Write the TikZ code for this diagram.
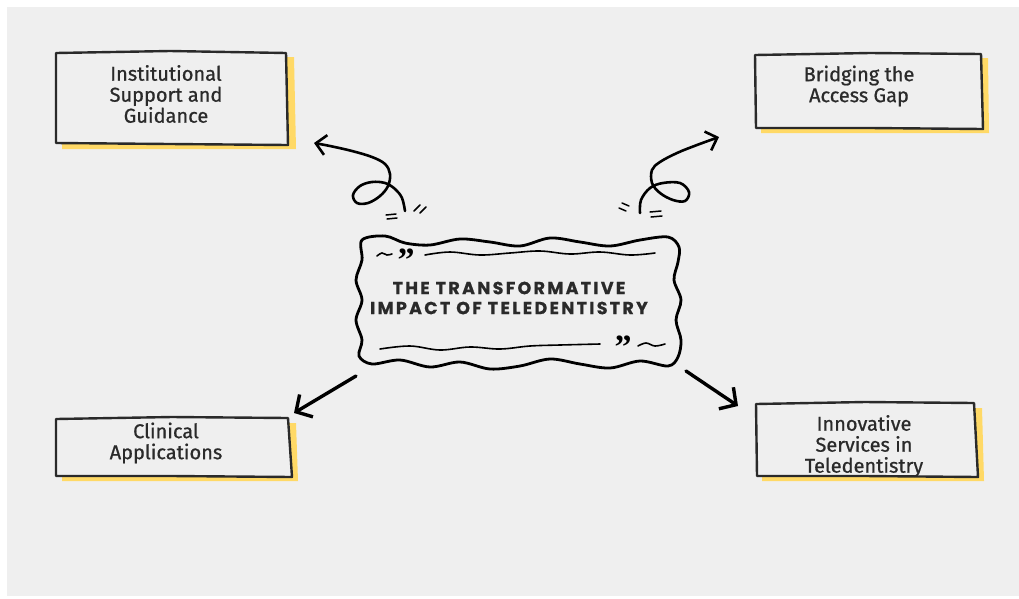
\documentclass[tikz,border=0pt]{standalone}
\usepackage{fontspec}
\setmainfont{Fira Sans}
\newfontfamily\lblfont{Fira Sans}[FakeBold=0.8]
\newfontfamily\titlefont{Poppins}[LetterSpace=13,FakeBold=0.6]
\newfontfamily\quotefont{Liberation Serif}
\usetikzlibrary{arrows.meta}
\definecolor{bg}{HTML}{EFEFEF}
\definecolor{ink}{HTML}{2A2A2A}
\definecolor{ylw}{HTML}{FFD966}
\tikzset{
 x=1pt,y=-1pt,
 sketchbox/.style={draw=ink, fill=bg, line width=2.4pt, line join=round},
 shadowbox/.style={fill=ylw},
 lbl/.style={align=center, font=\lblfont\fontsize{20}{21}\selectfont, text=ink},
 ttl/.style={align=center, font=\titlefont\bfseries\fontsize{17.5}{20}\selectfont, text=ink},
 curly/.style={line width=2.6pt, line cap=round, line join=round, -{Straight Barb[length=10pt,width=20pt]}},
 straightarr/.style={line width=3.4pt, line cap=round, -{Straight Barb[length=12pt,width=26pt]}},
 tick/.style={line width=1.5pt, line cap=round},
 wave/.style={line width=1.6pt, line cap=round},
 quotemark/.style={font=\quotefont\bfseries\fontsize{34}{34}\selectfont, text=black, inner sep=0pt, anchor=north},
}
\begin{document}
\begin{tikzpicture}
\useasboundingbox (0,0) rectangle (1019,598);
\fill[white] (0,0) rectangle (1019,598);
\fill[bg] (7,7) rectangle (1019,596);

% box 1
\fill[shadowbox] (62,57) -- (294,57) -- (296,149) -- (62,149) -- cycle;
\filldraw[sketchbox] (56,53) -- (170,51) -- (286,53) -- (288,145) -- (170,144) -- (56,143) -- cycle;
\node[lbl] (inst) at (166,94) {Institutional\\Support and\\Guidance};

% box 2
\fill[shadowbox] (761,58) -- (988,58) -- (989,133) -- (761,133) -- cycle;
\filldraw[sketchbox] (755,55) -- (870,53) -- (981,54) -- (983,129) -- (870,128) -- (756,128) -- cycle;
\node[lbl] (bridge) at (859,86) {Bridging the\\Access Gap};

% box 3
\fill[shadowbox] (62,423) -- (296,423) -- (298,481) -- (62,481) -- cycle;
\filldraw[sketchbox] (56,419) -- (172,417) -- (288,418) -- (292,477) -- (172,476) -- (56,476) -- cycle;
\node[lbl] (clin) at (166,443) {Clinical\\Applications};

% box 4
\fill[shadowbox] (762,408) -- (982,408) -- (984,481) -- (762,481) -- cycle;
\filldraw[sketchbox] (756,404) -- (865,402) -- (974,403) -- (978,477) -- (865,476) -- (757,476) -- cycle;
\node[lbl] (innov) at (864,446) {Innovative\\Services in\\Teledentistry};

% centre wavy frame
\draw[line width=2.8pt, line join=round, draw=black] plot[smooth cycle, tension=0.55] coordinates {
 (362,240) (385,236) (405,243) (430,245) (460,239) (490,242) (520,246) (550,238) (580,242) (610,246) (640,240) (668,237)
 (679,247) (678,262) (674,280) (681,300) (676,320) (681,340) (678,357)
 (668,366) (640,361) (610,368) (580,364) (550,359) (520,366) (490,369) (460,362) (430,367) (400,360) (372,364)
 (359,356) (362,340) (356,320) (362,300) (356,280) (362,260) };
\node[ttl] (title) at (509,298) {THE TRANSFORMATIVE\\IMPACT OF TELEDENTISTRY};
% decorative lines
\draw[wave] plot[smooth, tension=0.6] coordinates {(377,256) (382,253) (387,255) (392,254)};
\node[quotemark] (q1) at (406,249) {”};
\draw[wave] plot[smooth, tension=0.6] coordinates {(425,255) (450,252) (480,255) (510,253) (540,251) (570,254) (600,252) (630,255) (655,253)};
\draw[wave] plot[smooth, tension=0.6] coordinates {(380,349) (410,346) (440,350) (470,347) (500,349) (530,346) (560,345) (600,344)};
\node[quotemark] (q2) at (623,336) {”};
\draw[wave] plot[smooth, tension=0.6] coordinates {(638,346) (646,343) (655,346) (665,344)};

% curly arrows
\coordinate (s1) at (405,211);
\coordinate (e1) at (314,143);
\draw[curly] plot[smooth, tension=0.6] coordinates {(405,211) (402,198) (395,189) (385,183) (372,182) (360,186) (353,195) (357,203) (368,203) (380,196) (388,186) (390,174) (385,164) (372,157) (352,151) (330,146) (314,143)};
\draw[tick] (386,215) -- (396,214) (387,219) -- (397,218);
\draw[tick] (414,211) -- (420,205) (420,213) -- (426,207);

\coordinate (s2) at (640,213);
\coordinate (e2) at (719,137);
\draw[curly] plot[smooth, tension=0.6] coordinates {(640,213) (641,200) (650,188) (663,183) (680,183) (689,192) (685,201) (673,200) (660,193) (652,183) (652,170) (660,162) (677,153) (697,145) (719,137)};
\draw[tick] (650,212) -- (661,211) (651,217) -- (662,216);
\draw[tick] (619,208) -- (626,211) (622,203) -- (629,206);

% straight arrows
\coordinate (s3) at (356,376);
\coordinate (e3) at (294,413);
\draw[straightarr] (s3) -- (e3);
\coordinate (s4) at (686,371);
\coordinate (e4) at (738,406);
\draw[straightarr] (s4) -- (e4);
\end{tikzpicture}
\end{document}
